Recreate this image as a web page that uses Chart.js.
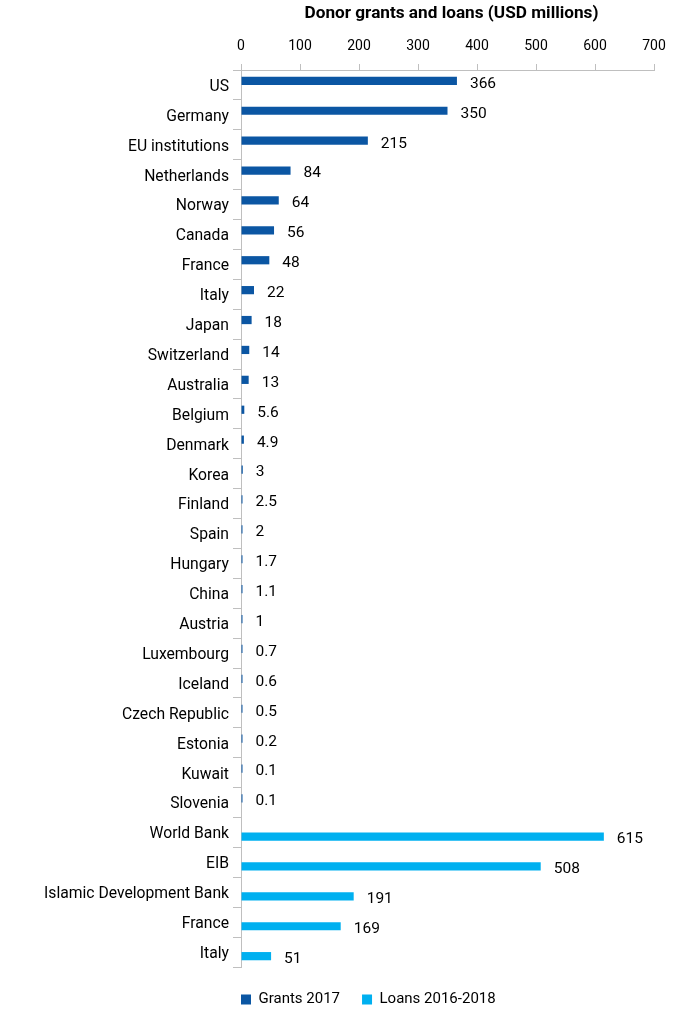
<!DOCTYPE html>
<html>
<head>
<meta charset="utf-8">
<script src="https://cdn.jsdelivr.net/npm/chart.js@4/dist/chart.umd.min.js"></script>
<style>
  html, body { margin: 0; padding: 0; background: #ffffff; }
  #wrap { width: 700px; height: 1017px; }
</style>
</head>
<body>
<div id="wrap"><canvas id="c" width="700" height="1017"></canvas></div>
<script>
const categories = ["US","Germany","EU institutions","Netherlands","Norway","Canada","France","Italy","Japan","Switzerland","Australia","Belgium","Denmark","Korea","Finland","Spain","Hungary","China","Austria","Luxembourg","Iceland","Czech Republic","Estonia","Kuwait","Slovenia","World Bank","EIB","Islamic Development Bank","France","Italy"];
const grants2017 = [366,350,215,84,64,56,48,22,18,14,13,5.6,4.9,3,2.5,2,1.7,1.1,1,0.7,0.6,0.5,0.2,0.1,0.1,null,null,null,null,null];
const loans2016_2018 = [null,null,null,null,null,null,null,null,null,null,null,null,null,null,null,null,null,null,null,null,null,null,null,null,null,615,508,191,169,51];
const xTicks = [0,100,200,300,400,500,600,700];
const seriesNames = ["Grants 2017","Loans 2016-2018"];
const titleText = "Donor grants and loans (USD millions)";

const FONT = "Roboto, 'Liberation Sans', sans-serif";
const AXIS_GREY = "#bfbfbf";
const PLOT_LEFT = 241;

const extras = {
  id: 'extras',
  afterLayout(chart) {
    const lg = chart.legend;
    if (lg && lg.lineWidths) {
      const pad = lg.options.labels.padding;
      lg.left = 2 * chart.chartArea.left - pad - lg.right + lg.lineWidths[0];
      lg.top += 3;
    }
  },
  afterDatasetsDraw(chart) {
    const ctx = chart.ctx;
    ctx.save();
    ctx.fillStyle = "#000";
    ctx.font = "15.5px " + FONT;
    ctx.textAlign = "left";
    ctx.textBaseline = "middle";
    chart.data.datasets.forEach((ds, di) => {
      const meta = chart.getDatasetMeta(di);
      meta.data.forEach((bar, i) => {
        const v = ds.data[i];
        if (v === null || v === undefined) return;
        ctx.fillText(String(v), bar.x + 13, bar.y + 3);
      });
    });
    ctx.font = "bold 17.2px " + FONT;
    ctx.textAlign = "center";
    const ca = chart.chartArea;
    ctx.fillText(titleText, (ca.left + ca.right) / 2 + 4, 14);
    ctx.restore();
  }
};

new Chart(document.getElementById('c'), {
  type: 'bar',
  data: {
    labels: categories,
    datasets: [
      { label: seriesNames[0], data: grants2017, backgroundColor: "#0b56a3", borderWidth: 0, minBarLength: 1.5 },
      { label: seriesNames[1], data: loans2016_2018, backgroundColor: "#00b0f0", borderWidth: 0, minBarLength: 1.5 }
    ]
  },
  options: {
    indexAxis: 'y',
    responsive: false,
    animation: false,
    devicePixelRatio: 1,
    layout: { padding: { left: 20, right: 46, top: 27, bottom: 3 } },
    datasets: { bar: { categoryPercentage: 0.55, barPercentage: 1.0 } },
    scales: {
      x: {
        position: 'top',
        min: 0, max: 700,
        afterBuildTicks(scale) { scale.ticks = xTicks.map(v => ({ value: v })); },
        afterFit(scale) { scale.height = 43; },
        grid: { drawOnChartArea: false, drawTicks: true, tickLength: 6, color: AXIS_GREY },
        border: { display: true, color: AXIS_GREY },
        ticks: { color: "#000", font: { family: FONT, size: 14 }, padding: 9, maxRotation: 0 }
      },
      y: {
        afterFit(scale) { scale.width = PLOT_LEFT - 20; },
        grid: { drawOnChartArea: false, drawTicks: true, tickLength: 8, color: AXIS_GREY, offset: true },
        border: { display: true, color: AXIS_GREY },
        ticks: { color: "#000", font: { family: FONT, size: 15.7 }, padding: 4, autoSkip: false, labelOffset: 2 }
      }
    },
    plugins: {
      legend: {
        position: 'bottom',
        labels: { boxWidth: 10, boxHeight: 10, color: "#000", font: { family: FONT, size: 15 }, padding: 22 }
      },
      tooltip: { enabled: false },
      title: { display: false }
    }
  },
  plugins: [extras]
});
</script>
</body>
</html>
